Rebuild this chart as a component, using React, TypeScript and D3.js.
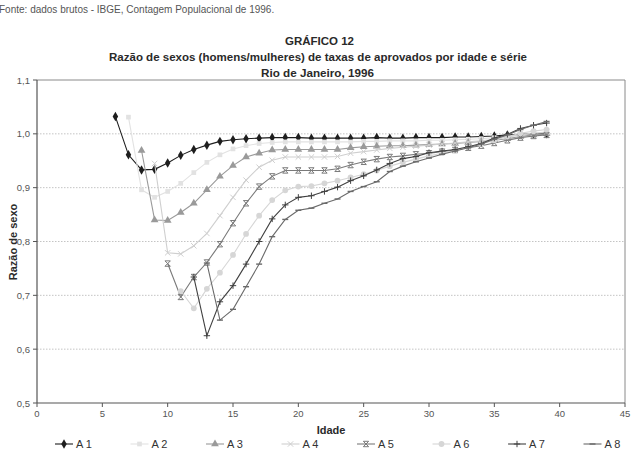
import React from "react";
import * as d3 from "d3";

const seriesNames = ["A 1", "A 2", "A 3", "A 4", "A 5", "A 6", "A 7", "A 8"];
const startAges = [6, 7, 8, 9, 10, 11, 12, 13];
const endAge = 39;

const a1 = [1.032, 0.961, 0.933, 0.934, 0.946, 0.96, 0.971, 0.979, 0.986, 0.989, 0.991, 0.992, 0.993, 0.993, 0.993, 0.992, 0.992, 0.992, 0.992, 0.992, 0.993, 0.992, 0.992, 0.993, 0.993, 0.993, 0.994, 0.994, 0.995, 0.996, 0.998, 0.999, 1.0, 1.0];
const a2 = [1.031, 0.896, 0.882, 0.893, 0.908, 0.928, 0.947, 0.961, 0.972, 0.978, 0.982, 0.984, 0.985, 0.985, 0.985, 0.985, 0.985, 0.985, 0.986, 0.986, 0.987, 0.987, 0.987, 0.988, 0.988, 0.989, 0.99, 0.991, 0.993, 0.995, 0.998, 1.001, 1.004, 1.006];
const a3 = [0.969, 0.84, 0.839, 0.854, 0.871, 0.896, 0.921, 0.941, 0.957, 0.964, 0.97, 0.971, 0.971, 0.971, 0.971, 0.971, 0.974, 0.976, 0.977, 0.978, 0.978, 0.979, 0.98, 0.981, 0.982, 0.984, 0.986, 0.988, 0.991, 0.995, 0.998, 1.0];
const a4 = [0.945, 0.779, 0.777, 0.792, 0.815, 0.848, 0.882, 0.914, 0.938, 0.951, 0.957, 0.957, 0.957, 0.957, 0.958, 0.964, 0.967, 0.97, 0.973, 0.975, 0.977, 0.979, 0.981, 0.983, 0.985, 0.987, 0.99, 0.994, 0.998, 1.001, 1.003];
const a5 = [0.759, 0.697, 0.734, 0.761, 0.795, 0.834, 0.871, 0.902, 0.921, 0.932, 0.932, 0.932, 0.932, 0.935, 0.942, 0.948, 0.953, 0.957, 0.959, 0.962, 0.964, 0.967, 0.97, 0.974, 0.978, 0.983, 0.988, 0.993, 0.996, 0.998];
const a6 = [0.708, 0.676, 0.712, 0.742, 0.775, 0.814, 0.848, 0.877, 0.895, 0.902, 0.903, 0.908, 0.913, 0.919, 0.925, 0.932, 0.94, 0.947, 0.953, 0.959, 0.964, 0.969, 0.975, 0.981, 0.988, 0.995, 1.001, 1.005, 1.008];
const a7 = [0.734, 0.625, 0.688, 0.718, 0.758, 0.8, 0.842, 0.868, 0.882, 0.885, 0.893, 0.901, 0.913, 0.922, 0.933, 0.945, 0.954, 0.958, 0.965, 0.968, 0.971, 0.976, 0.982, 0.992, 0.999, 1.01, 1.016, 1.02];
const a8 = [0.76, 0.654, 0.674, 0.716, 0.758, 0.809, 0.841, 0.858, 0.862, 0.871, 0.879, 0.893, 0.902, 0.911, 0.93, 0.94, 0.948, 0.955, 0.962, 0.968, 0.974, 0.981, 0.99, 0.998, 1.008, 1.016, 1.023];

const seriesValues = [a1, a2, a3, a4, a5, a6, a7, a8];
const xTicks = [0, 5, 10, 15, 20, 25, 30, 35, 40, 45];
const yTicks = [0.5, 0.6, 0.7, 0.8, 0.9, 1.0, 1.1];

const colors = ["#1e1e1e", "#e2e2e2", "#9a9a9a", "#cfcfcf", "#7a7a7a", "#d6d6d6", "#404040", "#6a6a6a"];
const markerTypes = ["diamond", "square", "triangle", "x", "star", "circle", "plus", "dash"];

const W = 633, H = 454;
const left = 37, right = 625, top = 80, bottom = 403;

function Marker({ type, x, y, color }: { type: string; x: number; y: number; color: string }) {
  const t = `translate(${x},${y})`;
  if (type === "diamond") return <path transform={t} d={d3.symbol(d3.symbolDiamond, 26)()!} fill={color} />;
  if (type === "square") return <path transform={t} d={d3.symbol(d3.symbolSquare, 22)()!} fill={color} />;
  if (type === "triangle") return <path transform={t} d={d3.symbol(d3.symbolTriangle, 26)()!} fill={color} />;
  if (type === "circle") return <path transform={t} d={d3.symbol(d3.symbolCircle, 26)()!} fill={color} />;
  if (type === "x") return <path transform={t} d="M-2.7,-2.7L2.7,2.7M-2.7,2.7L2.7,-2.7" stroke={color} strokeWidth={1} fill="none" />;
  if (type === "star") return <path transform={t} d="M-2.7,-2.7L2.7,2.7M-2.7,2.7L2.7,-2.7M-2.7,-2.7L2.7,-2.7M-2.7,2.7L2.7,2.7" stroke={color} strokeWidth={1} fill="none" />;
  if (type === "plus") return <path transform={t} d="M-3.2,0L3.2,0M0,-3.2L0,3.2" stroke={color} strokeWidth={1} fill="none" />;
  return <path transform={t} d="M-3,0L3,0" stroke={color} strokeWidth={1.4} fill="none" />;
}

export default function App() {
  const x = d3.scaleLinear().domain([0, 45]).range([left, right]);
  const y = d3.scaleLinear().domain([0.5, 1.1]).range([bottom, top]);
  const line = d3.line<[number, number]>().x((d) => x(d[0])).y((d) => y(d[1]));
  const font = "'Liberation Sans', Arial, sans-serif";

  const series = seriesValues.map((vals, i) =>
    vals.map((v, j) => [startAges[i] + j, v] as [number, number]).filter((d) => d[0] <= endAge)
  );

  const legendX0 = 55;
  const legendStep = 75.5;
  const legendY = 444;

  return (
    <svg width={W} height={H} style={{ position: "absolute", left: 0, top: 0, background: "#fff" }} fontFamily={font}>
      <rect x={0} y={0} width={W} height={H} fill="#fff" />
      <text x={-1} y={13} fontSize={10} fill="#555">Fonte: dados brutos - IBGE, Contagem Populacional de 1996.</text>
      <text x={319.5} y={45} fontSize={11} fontWeight="bold" fill="#2a2a2a" textAnchor="middle" textLength={69} lengthAdjust="spacingAndGlyphs">GRÁFICO 12</text>
      <text x={318} y={61} fontSize={11} fontWeight="bold" fill="#2a2a2a" textAnchor="middle" textLength={418} lengthAdjust="spacingAndGlyphs">Razão de sexos (homens/mulheres) de taxas de aprovados por idade e série</text>
      <text x={317.5} y={77} fontSize={11} fontWeight="bold" fill="#2a2a2a" textAnchor="middle" textLength={113} lengthAdjust="spacingAndGlyphs">Rio de Janeiro, 1996</text>

      {yTicks.filter((t) => t > 0.5 && t < 1.1).map((t) => (
        <line key={"g" + t} x1={left} x2={right} y1={y(t)} y2={y(t)} stroke="#c4c4c4" strokeDasharray="1.5,1.5" strokeWidth={1} />
      ))}
      <line x1={left} x2={right} y1={top} y2={top} stroke="#8a8a8a" strokeWidth={1} />
      <line x1={right} x2={right} y1={top} y2={bottom} stroke="#8a8a8a" strokeWidth={1} />
      <line x1={left} x2={left} y1={top} y2={bottom} stroke="#555" strokeWidth={1.2} />
      <line x1={left} x2={right} y1={bottom} y2={bottom} stroke="#555" strokeWidth={1.2} />

      {yTicks.map((t) => (
        <g key={"yt" + t}>
          <line x1={left - 4} x2={left} y1={y(t)} y2={y(t)} stroke="#555" />
          <text x={left - 7} y={y(t) + 3.5} fontSize={9.5} fill="#555" textAnchor="end">{d3.format(".1f")(t).replace(".", ",")}</text>
        </g>
      ))}
      {xTicks.map((t) => (
        <g key={"xt" + t}>
          <line x1={x(t)} x2={x(t)} y1={bottom} y2={bottom + 4} stroke="#555" />
          <text x={x(t)} y={bottom + 14} fontSize={9.5} fill="#555" textAnchor="middle">{t}</text>
        </g>
      ))}

      <text x={331} y={434} fontSize={11} fontWeight="bold" fill="#2a2a2a" textAnchor="middle">Idade</text>
      <text transform={`translate(17,242) rotate(-90)`} fontSize={11} fontWeight="bold" fill="#2a2a2a" textAnchor="middle">Razão de sexo</text>

      {series.map((s, i) => (
        <g key={"s" + i}>
          <path d={line(s)!} fill="none" stroke={colors[i]} strokeWidth={1.1} />
          {s.map((d, j) => (
            <Marker key={j} type={markerTypes[i]} x={x(d[0])} y={y(d[1])} color={colors[i]} />
          ))}
        </g>
      ))}

      {seriesNames.map((n, i) => {
        const cx = legendX0 + i * legendStep + 9;
        return (
          <g key={"l" + i}>
            <line x1={cx - 9} x2={cx + 9} y1={legendY} y2={legendY} stroke={colors[i]} strokeWidth={1.1} />
            <Marker type={markerTypes[i]} x={cx} y={legendY} color={colors[i]} />
            <text x={cx + 12} y={legendY + 4} fontSize={11} fill="#333">{n}</text>
          </g>
        );
      })}
    </svg>
  );
}
